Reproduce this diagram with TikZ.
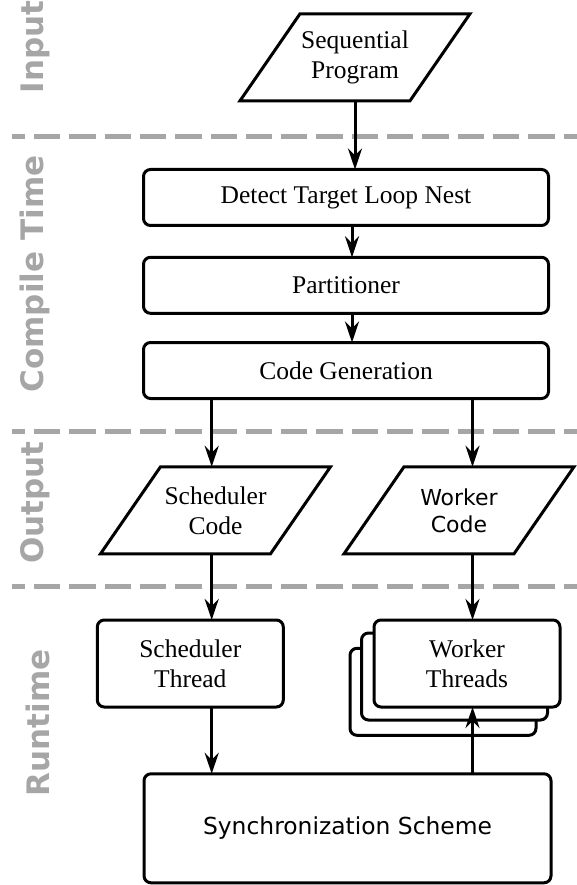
\documentclass[tikz,border=0pt]{standalone}
\usepackage{fontspec}
\setmainfont{Liberation Serif}
\newfontfamily\sansfam{DejaVu Sans}
\usetikzlibrary{arrows.meta,calc}
\begin{document}
\begin{tikzpicture}[x=1pt,y=-1pt,
  stagebox/.style={draw, line width=3pt, rounded corners=7pt, fill=white,
    inner sep=0pt, outer sep=0pt},
  databox/.style={inner sep=0pt, outer sep=0pt, minimum width=170pt, minimum height=87pt},
  serif/.style={font=\fontsize{25.5}{30}\selectfont, align=center},
  sans/.style={font=\sansfam\fontsize{22}{27}\selectfont, align=center},
  flow/.style={line width=3pt, -{Stealth[length=21pt,width=14pt,inset=7pt]}},
  phase/.style={draw=black!35, line width=5pt, dash pattern=on 26.3pt off 9pt, dash phase=13.3pt},
  phaselabel/.style={text=black!35, font=\sansfam\bfseries\fontsize{31}{36}\selectfont,
    rotate=90, anchor=base, inner sep=0pt},
]
\useasboundingbox (0,0) rectangle (577,885);

% phase separators
\draw[phase] (12,136.7) -- (577,136.7);
\draw[phase] (12,431.3) -- (577,431.3);
\draw[phase] (12,586.7) -- (577,586.7);

% phase labels
\node[phaselabel] (lin)  at (43,47)    {Input};
\node[phaselabel] (lct)  at (43,274)   {Compile Time};
\node[phaselabel] (lout) at (43,502.7) {Output};
\node[phaselabel] (lrt)  at (49,723)   {Runtime};

% lanes of the two output streams
\coordinate (lane1) at (211.7,0);
\coordinate (lane2) at (472.5,0);

% input
\node[databox, serif] (seq) at (355,57.3) {Sequential\\Program};
\draw[line width=3pt] ([xshift=30pt]seq.north west) -- ([xshift=30pt]seq.north east)
  -- ([xshift=-30pt]seq.south east) -- ([xshift=-30pt]seq.south west) -- cycle;

% compile time
\node[stagebox, serif, minimum width=405pt, minimum height=56pt] (detect) at (346,197.5) {Detect Target Loop Nest};
\node[stagebox, serif, minimum width=405pt, minimum height=56pt] (part) at (346,285.3) {Partitioner};
\node[stagebox, serif, minimum width=405pt, minimum height=56pt] (codegen) at (346,370.5) {Code Generation};

% output
\node[databox, serif] (schedcode) at (215.5,510.3) {Scheduler\\Code};
\draw[line width=3pt] ([xshift=30pt]schedcode.north west) -- ([xshift=30pt]schedcode.north east)
  -- ([xshift=-30pt]schedcode.south east) -- ([xshift=-30pt]schedcode.south west) -- cycle;
\node[databox, sans] (workcode) at (459,510.3) {Worker\\Code};
\draw[line width=3pt] ([xshift=30pt]workcode.north west) -- ([xshift=30pt]workcode.north east)
  -- ([xshift=-30pt]workcode.south east) -- ([xshift=-30pt]workcode.south west) -- cycle;

% runtime
\node[stagebox, serif, minimum width=186pt, minimum height=87pt] (schedthr) at (190.3,663.5) {Scheduler\\Thread};
\node[stagebox, minimum width=186pt, minimum height=87pt] (workback) at (443,691.8) {};
\node[stagebox, minimum width=186pt, minimum height=87pt] (workmid) at (454.5,676.5) {};
\node[stagebox, serif, minimum width=186pt, minimum height=87pt] (workthr) at (467,663.5) {Worker\\Threads};
\node[stagebox, font=\sansfam\fontsize{23.4}{27}\selectfont, minimum width=407pt, minimum height=109pt] (sync) at (347.5,828.3) {Synchronization Scheme};

% connectors
\draw[flow] (seq.south) -- (seq.south |- detect.north);
\draw[flow] ([xshift=6pt]detect.south) -- ([xshift=6pt]part.north);
\draw[flow] ([xshift=6pt]part.south) -- ([xshift=6pt]codegen.north);
\draw[flow] (codegen.south -| lane1) -- (schedcode.north -| lane1);
\draw[flow] (codegen.south -| lane2) -- (workcode.north -| lane2);
\draw[flow] (schedcode.south -| lane1) -- (schedthr.north -| lane1);
\draw[flow] (workcode.south -| lane2) -- (workthr.north -| lane2);
\draw[flow] (schedthr.south -| lane1) -- (sync.north -| lane1);
\draw[flow] (sync.north -| lane2) -- (workthr.south -| lane2);
\end{tikzpicture}
\end{document}
